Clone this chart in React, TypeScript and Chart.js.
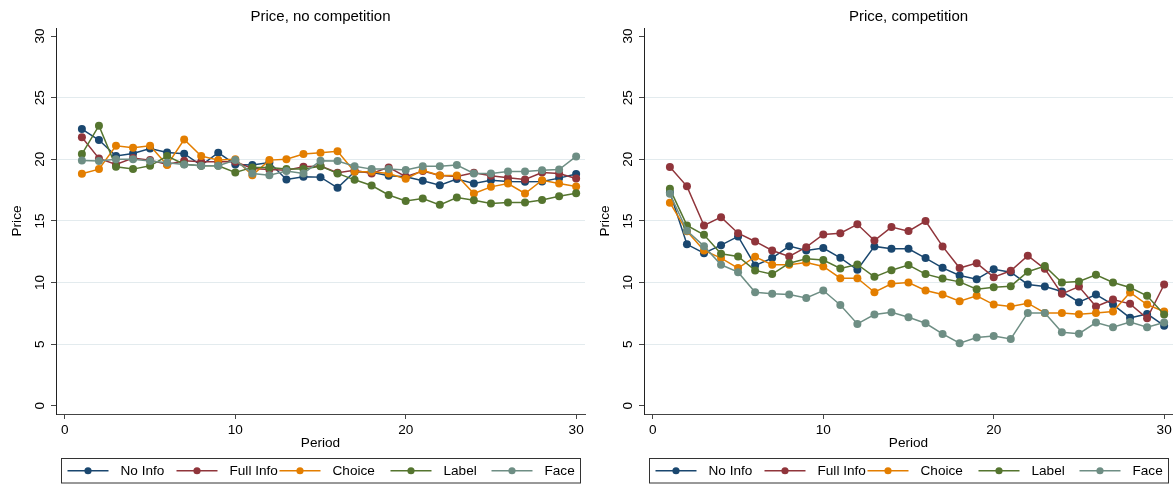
import React, { useEffect, useRef } from 'react';
import { Chart, registerables } from 'chart.js';

Chart.register(...registerables);

const periods = [1, 2, 3, 4, 5, 6, 7, 8, 9, 10, 11, 12, 13, 14, 15, 16, 17, 18, 19, 20, 21, 22, 23, 24, 25, 26, 27, 28, 29, 30];
const xTicks = [0, 10, 20, 30];
const yTicks = [0, 5, 10, 15, 20, 25, 30];
const seriesNames = ['No Info', 'Full Info', 'Choice', 'Label', 'Face'];
const seriesColors = ['#1a476f', '#90353b', '#e37e00', '#55752f', '#6e8e84'];

// Price, no competition
const ncNoInfo = [22.45, 21.56, 20.26, 20.47, 20.88, 20.55, 20.45, 19.5, 20.53, 19.58, 19.53, 19.74, 18.36, 18.58, 18.55, 17.68, 18.98, 18.95, 18.66, 18.58, 18.25, 17.9, 18.39, 18.04, 18.3, 18.2, 18.17, 18.2, 18.47, 18.8];
const ncFullInfo = [21.78, 20.07, 19.58, 20.1, 19.93, 19.58, 19.88, 19.8, 19.8, 19.8, 19.25, 19.17, 19.1, 19.39, 19.45, 18.9, 19.1, 18.85, 19.34, 18.58, 19.04, 18.69, 18.6, 18.9, 18.66, 18.5, 18.36, 18.93, 18.85, 18.44];
const ncChoice = [18.82, 19.2, 21.1, 20.93, 21.1, 19.53, 21.6, 20.26, 19.93, 20.0, 18.71, 19.93, 20.0, 20.42, 20.53, 20.64, 18.98, 18.98, 18.85, 18.41, 19.1, 18.69, 18.69, 17.22, 17.76, 18.03, 17.22, 18.3, 18.03, 17.79];
const ncLabel = [20.42, 22.72, 19.39, 19.2, 19.47, 20.26, 19.6, 19.47, 19.47, 18.93, 19.34, 19.34, 19.2, 19.2, 19.44, 18.85, 18.33, 17.87, 17.1, 16.62, 16.82, 16.3, 16.9, 16.68, 16.41, 16.49, 16.49, 16.7, 17.0, 17.25];
const ncFace = [19.9, 19.85, 20.0, 20.0, 19.85, 19.72, 19.58, 19.47, 19.47, 19.93, 18.85, 18.71, 19.04, 18.85, 19.88, 19.85, 19.44, 19.2, 19.2, 19.12, 19.44, 19.44, 19.53, 18.85, 18.85, 19.0, 19.0, 19.1, 19.17, 20.23];

// Price, competition
const cNoInfo = [17.3, 13.1, 12.38, 13.03, 13.74, 11.38, 11.98, 12.95, 12.6, 12.79, 12.0, 11.03, 12.93, 12.74, 12.74, 11.98, 11.19, 10.57, 10.27, 11.08, 10.84, 9.84, 9.67, 9.27, 8.4, 9.02, 8.21, 7.13, 7.45, 6.5];
const cFullInfo = [19.38, 17.8, 14.63, 15.3, 14.0, 13.33, 12.6, 12.11, 12.87, 13.9, 14.0, 14.72, 13.41, 14.5, 14.17, 14.99, 12.93, 11.17, 11.57, 10.43, 10.95, 12.17, 11.11, 9.08, 9.67, 8.05, 8.62, 8.27, 7.1, 9.84];
const cChoice = [16.48, 14.15, 12.6, 11.98, 11.17, 12.09, 11.44, 11.44, 11.63, 11.3, 10.35, 10.35, 9.21, 9.89, 10.0, 9.35, 9.02, 8.48, 8.92, 8.21, 8.05, 8.32, 7.53, 7.53, 7.43, 7.53, 7.64, 9.19, 8.21, 7.64];
const cLabel = [17.6, 14.63, 13.87, 12.33, 12.11, 10.98, 10.68, 11.57, 11.92, 11.82, 11.14, 11.46, 10.46, 11.0, 11.41, 10.68, 10.33, 10.05, 9.46, 9.62, 9.7, 10.87, 11.33, 10.0, 10.08, 10.62, 10.0, 9.59, 8.92, 7.4];
const cFace = [17.2, 14.2, 12.95, 11.44, 10.84, 9.21, 9.08, 9.02, 8.75, 9.35, 8.18, 6.64, 7.4, 7.59, 7.18, 6.69, 5.83, 5.07, 5.53, 5.66, 5.42, 7.53, 7.53, 5.96, 5.85, 6.75, 6.37, 6.8, 6.37, 6.75];

const FONT = '"Liberation Sans", Arial, Helvetica, sans-serif';
const BASE = 13.6;

const legendOffsets = [6, 115, 218, 329, 430];

const stataLegend = {
  id: 'stataLegend',
  afterDraw(chart: any) {
    const { ctx, chartArea } = chart;
    const left = Math.round(chartArea.left + 5) + 0.5;
    const top = 458.5;
    const w = Math.round(chartArea.right - chartArea.left - 10);
    const h = 24.5;
    const cy = top + h / 2;
    ctx.save();
    ctx.strokeStyle = '#333';
    ctx.lineWidth = 1;
    ctx.strokeRect(left, top, w, h);
    ctx.font = `${BASE}px ${FONT}`;
    ctx.textBaseline = 'middle';
    ctx.textAlign = 'left';
    chart.data.datasets.forEach((ds: any, i: number) => {
      const sx = left + legendOffsets[i];
      ctx.strokeStyle = ds.borderColor;
      ctx.lineWidth = 1.5;
      ctx.beginPath();
      ctx.moveTo(sx, cy);
      ctx.lineTo(sx + 41, cy);
      ctx.stroke();
      ctx.fillStyle = ds.borderColor;
      ctx.beginPath();
      ctx.arc(sx + 20.5, cy, 3.6, 0, Math.PI * 2);
      ctx.fill();
      ctx.fillStyle = '#000';
      ctx.fillText(ds.label, sx + 53, cy + 0.5);
    });
    ctx.restore();
  },
};

function Panel({ title, series, left, width }: { title: string; series: number[][]; left: number; width: number }) {
  const ref = useRef<HTMLCanvasElement>(null);
  useEffect(() => {
    if (!ref.current) return;
    const datasets = series.map((vals, i) => ({
      label: seriesNames[i],
      data: periods.map((p, j) => ({ x: p, y: vals[j] })),
      borderColor: seriesColors[i],
      backgroundColor: seriesColors[i],
      pointBackgroundColor: seriesColors[i],
      pointBorderWidth: 0,
      pointRadius: 4,
      pointHoverRadius: 4,
      borderWidth: 1.5,
      tension: 0,
      order: seriesNames.length - i,
    }));
    const font = { family: FONT, size: BASE };
    const chart = new Chart(ref.current, {
      type: 'line',
      data: { datasets },
      plugins: [stataLegend],
      options: {
        animation: false,
        responsive: false,
        maintainAspectRatio: false,
        layout: { padding: 0 },
        plugins: {
          legend: { display: false },
          tooltip: { enabled: false },
          title: {
            display: true,
            fullSize: false,
            text: title,
            color: '#000',
            font: { family: FONT, size: 15, weight: 'normal' },
            padding: { top: 8, bottom: 2 },
          },
        },
        scales: {
          x: {
            type: 'linear',
            min: -0.52,
            max: 30.52,
            afterBuildTicks: (s: any) => {
              s.ticks = xTicks.map((v) => ({ value: v }));
            },
            afterFit: (s: any) => {
              s.height = 73;
              s.paddingLeft = 0;
              s.paddingRight = 0;
            },
            grid: { drawOnChartArea: false, tickLength: 5, tickColor: '#444', tickWidth: 1 },
            border: { color: '#444', width: 1 },
            ticks: { padding: 3, font, color: '#000', maxRotation: 0, minRotation: 0, autoSkip: false },
            title: { display: true, text: 'Period', color: '#000', font, padding: { top: 0, bottom: 36 } },
          },
          y: {
            type: 'linear',
            min: -0.67,
            max: 30.65,
            afterBuildTicks: (s: any) => {
              s.ticks = yTicks.map((v) => ({ value: v }));
            },
            afterFit: (s: any) => {
              s.width = 56;
            },
            grid: {
              color: (c: any) => (c.tick && c.tick.value > 0 && c.tick.value < 30 ? '#e3ebee' : 'rgba(0,0,0,0)'),
              tickColor: '#444',
              tickLength: 5,
              lineWidth: 1,
            },
            border: { color: '#222', width: 1 },
            ticks: { padding: 3, font, color: '#000', minRotation: 90, maxRotation: 90, crossAlign: 'center', autoSkip: false },
            title: { display: true, text: 'Price', color: '#000', font, padding: { top: 9, bottom: 0 } },
          },
        },
      } as any,
    });
    return () => chart.destroy();
  }, [title, series]);
  return (
    <canvas
      ref={ref}
      width={width}
      height={487}
      style={{ position: 'absolute', left, top: 0, width, height: 487 }}
    />
  );
}

const leftSeries = [ncNoInfo, ncFullInfo, ncChoice, ncLabel, ncFace];
const rightSeries = [cNoInfo, cFullInfo, cChoice, cLabel, cFace];

export default function App() {
  return (
    <div style={{ position: 'absolute', left: 0, top: 0, width: 1173, height: 487, background: '#fff', overflow: 'hidden' }}>
      <Panel title="Price, no competition" series={leftSeries} left={0} width={589} />
      <Panel title="Price, competition" series={rightSeries} left={588} width={589} />
    </div>
  );
}
